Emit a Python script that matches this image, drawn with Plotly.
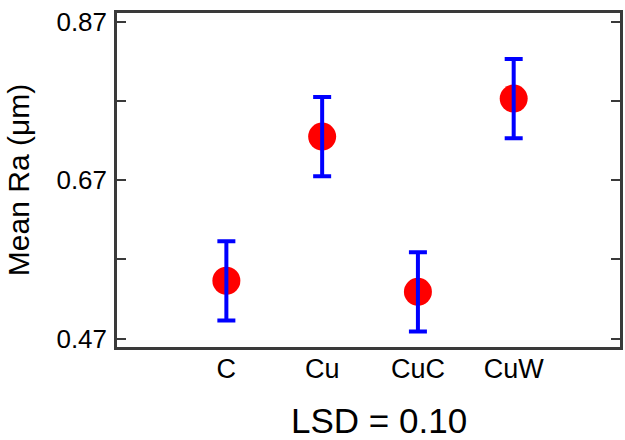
import plotly.graph_objects as go

# Surface roughness means per treatment, with LSD-based error bars
treatments = ["C", "Cu", "CuC", "CuW"]
mean_ra = [0.543, 0.725, 0.529, 0.773]
lsd = 0.10
half_lsd = [lsd / 2] * len(treatments)

y_tickvals = [0.47, 0.57, 0.67, 0.77, 0.87]
y_ticktext = ["0.47", "", "0.67", "", "0.87"]

FONT = "Liberation Sans, Arial, Helvetica, sans-serif"

fig = go.Figure()

# Red mean markers
fig.add_trace(go.Scatter(
    x=treatments, y=mean_ra, mode="markers",
    marker=dict(color="#ff0000", size=28, line=dict(width=0)),
    showlegend=False, hoverinfo="skip",
))

# Blue LSD bars drawn above the markers
fig.add_trace(go.Scatter(
    x=treatments, y=mean_ra, mode="markers",
    marker=dict(color="rgba(0,0,0,0)", size=1),
    error_y=dict(type="data", array=half_lsd, visible=True,
                 color="#0000ff", thickness=4, width=9),
    showlegend=False, hoverinfo="skip",
))

fig.update_layout(
    width=625, height=440,
    margin=dict(l=117, r=2, t=13, b=93),
    paper_bgcolor="white", plot_bgcolor="white",
    font=dict(family=FONT, color="black"),
    annotations=[dict(
        text="LSD = 0.10", xref="paper", yref="paper",
        x=0.521, y=-0.22, xanchor="center", yanchor="middle",
        showarrow=False, font=dict(size=35, family=FONT, color="black"),
    )],
)

fig.update_xaxes(
    type="category", range=[-1.142, 4.11],
    showline=True, linecolor="#3a3a3a", linewidth=2.5, mirror=True,
    ticks="", showgrid=False, zeroline=False,
    tickfont=dict(size=27, family=FONT, color="black"),
    ticklabelstandoff=-4,
)

fig.update_yaxes(
    range=[0.4594, 0.881],
    tickvals=y_tickvals, ticktext=y_ticktext,
    showline=True, linecolor="#3a3a3a", linewidth=2.5, mirror="ticks",
    ticks="inside", ticklen=9, tickwidth=2, tickcolor="#3a3a3a",
    showgrid=False, zeroline=False,
    tickfont=dict(size=26, family=FONT, color="black"),
    ticklabelstandoff=2,
    title=dict(text="Mean Ra (μm)", standoff=18,
               font=dict(size=30, family=FONT, color="black")),
)

fig.write_html("out.html")
